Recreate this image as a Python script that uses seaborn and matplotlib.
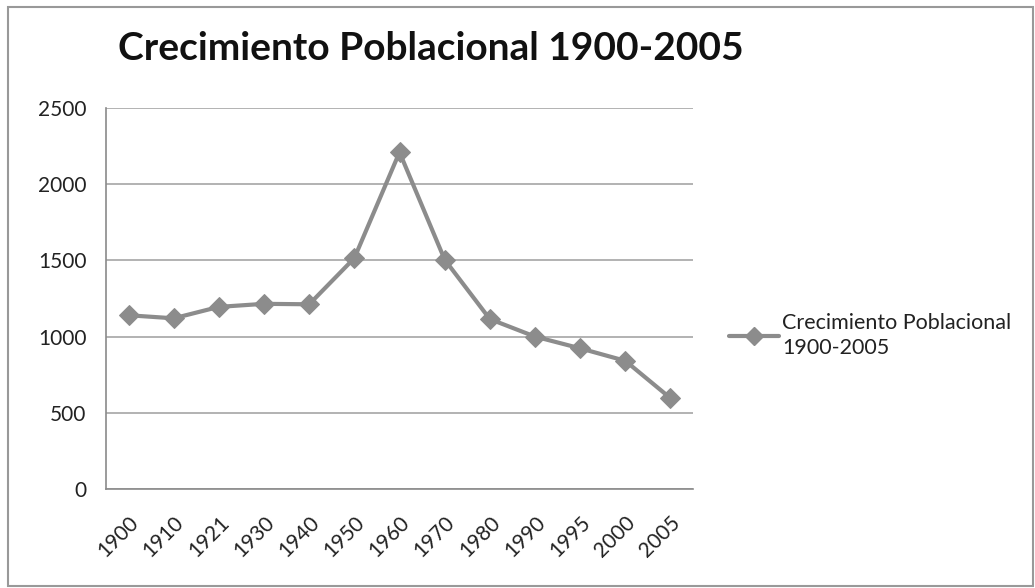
import pandas as pd
import numpy as np
import matplotlib
matplotlib.use("Agg")
import matplotlib.pyplot as plt
import seaborn as sns
from matplotlib.patches import Rectangle
from matplotlib.lines import Line2D


# Data

years = ["1900", "1910", "1921", "1930", "1940", "1950", "1960",
         "1970", "1980", "1990", "1995", "2000", "2005"]
poblacion = [1140, 1120, 1195, 1215, 1212, 1515, 2210,
             1505, 1115, 1000, 923, 841, 596]
y_ticks = [0, 500, 1000, 1500, 2000, 2500]
serie = "Crecimiento Poblacional 1900-2005"

df = pd.DataFrame({"year": years, "pob": poblacion})
df["pos"] = np.arange(len(years))

sns.set_style("white")
plt.rcParams["font.family"] = ["Lato", "DejaVu Sans"]

grey = "#8c8c8c"
axis_grey = "#8a8a8a"

fig = plt.figure(figsize=(10.35, 5.88), dpi=100)
ax = fig.add_axes([0.1024, 0.1684, 0.5672, 0.6479])

sns.lineplot(data=df, x="pos", y="pob", ax=ax, color=grey, linewidth=3.0,
             marker="D", markersize=10, markeredgecolor=grey, zorder=3)

# Axes styling (Excel look)
ax.set_xlim(-0.5, len(years) - 0.5)
ax.set_ylim(0, 2500)
ax.set_yticks(y_ticks)
ax.set_yticklabels([str(v) for v in y_ticks], fontsize=15, color="#222222")
ax.set_xticks(df["pos"])
ax.set_xticklabels(years, rotation=45, ha="right", rotation_mode="anchor",
                   fontsize=15, color="#222222")
ax.set_xticks(np.arange(-0.5, len(years)), minor=True)
ax.tick_params(axis="x", which="major", length=0, pad=17)
ax.tick_params(axis="x", which="minor", length=6, width=1.2, color=axis_grey,
               direction="out")
ax.tick_params(axis="y", length=6, width=1.2, color=axis_grey, direction="out", pad=8)
ax.set_xlabel("")
ax.set_ylabel("")

ax.yaxis.grid(True, color="#a6a6a6", linewidth=1.2)
ax.set_axisbelow(True)
for s in ["top", "right"]:
    ax.spines[s].set_visible(False)
for s in ["left", "bottom"]:
    ax.spines[s].set_color(axis_grey)
    ax.spines[s].set_linewidth(1.2)

# Title
fig.text(0.416, 0.918, serie, ha="center", va="center",
         fontsize=28, fontweight="bold", color="#111111")

# Legend
handle = Line2D([], [], color=grey, linewidth=3.0, marker="D", markersize=9,
                markeredgecolor=grey)
leg = fig.legend([handle], ["Crecimiento Poblacional\n1900-2005"],
                 loc="center left", bbox_to_anchor=(0.686, 0.43), frameon=False,
                 fontsize=15.5, handlelength=2.3, handletextpad=0.15,
                 labelcolor="#222222")
for t in leg.get_texts():
    t.set_linespacing(1.3)

# Outer chart border
fig.patches.append(Rectangle((0.008, 0.004), 0.99, 0.984, transform=fig.transFigure,
                             fill=False, edgecolor="#999999", linewidth=1.5))

fig.savefig("out.png", dpi=100)
